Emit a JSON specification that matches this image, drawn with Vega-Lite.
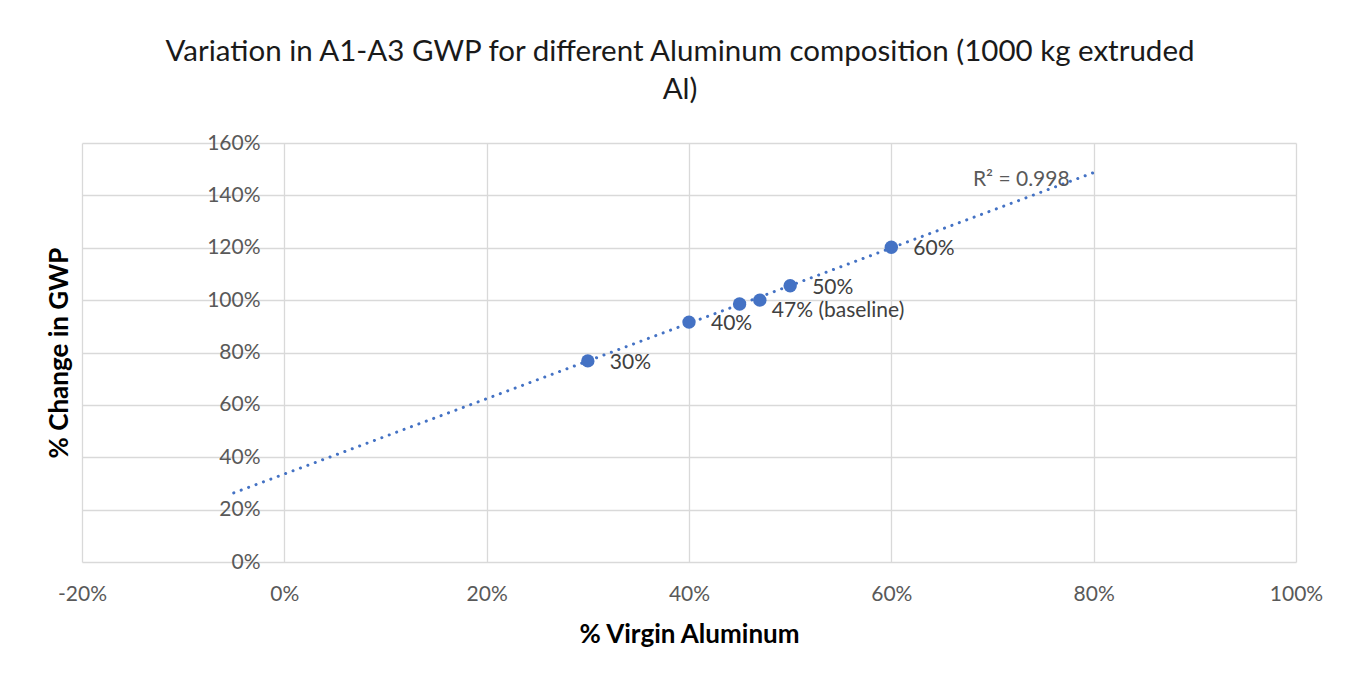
{
  "$schema": "https://vega.github.io/schema/vega-lite/v6.json",
  "width": 1214,
  "height": 419,
  "autosize": {"type": "none"},
  "padding": {"left": 82, "top": 143, "right": 55, "bottom": 115},
  "background": "white",
  "config": {
    "view": {"stroke": null},
    "font": "Lato",
    "axis": {"gridColor": "#d9d9d9", "gridWidth": 1.3, "domain": false, "ticks": false, "labelFlush": false, "labelColor": "#595959", "labelFontSize": 21, "labelFont": "Lato", "titleFont": "Lato", "titleFontSize": 26, "titleFontWeight": "bold", "titleColor": "#000000"}
  },
  "title": {
    "text": ["Variation in A1-A3 GWP for different Aluminum composition (1000 kg extruded", "Al)"],
    "fontSize": 29.5,
    "fontWeight": "normal",
    "font": "Lato",
    "color": "#1a1a1a",
    "anchor": "middle",
    "lineHeight": 38,
    "offset": 27,
    "dx": -9
  },
  "datasets": {
    "points": [
      {"virgin": 30, "gwp": 76.8, "label": "30%"},
      {"virgin": 40, "gwp": 91.6, "label": "40%"},
      {"virgin": 45, "gwp": 98.5, "label": ""},
      {"virgin": 47, "gwp": 100.0, "label": "47% (baseline)"},
      {"virgin": 50, "gwp": 105.5, "label": "50%"},
      {"virgin": 60, "gwp": 120.2, "label": "60%"}
    ],
    "trend": [
      {"virgin": -5, "gwp": 26.4},
      {"virgin": 80, "gwp": 148.7}
    ],
    "r2": [
      {"virgin": 80, "gwp": 148.7, "text": "R² = 0.998"}
    ]
  },
  "encoding": {
    "x": {"field": "virgin", "type": "quantitative", "scale": {"domain": [-20, 100], "nice": false, "zero": false},
      "axis": {"title": "% Virgin Aluminum", "values": [-20, 0, 20, 40, 60, 80, 100], "labelExpr": "datum.value + '%'", "labelPadding": 21, "titleY": 72, "titleBaseline": "middle"}},
    "y": {"field": "gwp", "type": "quantitative", "scale": {"domain": [0, 160], "nice": false},
      "axis": {"title": "% Change in GWP", "values": [0, 20, 40, 60, 80, 100, 120, 140, 160], "labelExpr": "datum.value + '%'", "offset": -202, "labelPadding": 24, "titleX": -212, "titleY": 209.5, "titleBaseline": "bottom", "titleAlign": "center", "titleAngle": -90}}
  },
  "layer": [
    {
      "data": {"name": "trend"},
      "mark": {"type": "line", "color": "#4472C4", "strokeWidth": 3, "strokeDash": [0.1, 7.8], "strokeCap": "round"}
    },
    {
      "data": {"name": "points"},
      "mark": {"type": "circle", "color": "#4472C4", "opacity": 1, "size": 180}
    },
    {
      "data": {"name": "points"},
      "transform": [{"filter": "datum.label != '' && datum.virgin != 47"}],
      "mark": {"type": "text", "align": "left", "baseline": "middle", "dx": 22, "dy": 2, "fontSize": 21, "color": "#404040", "font": "Lato"},
      "encoding": {"text": {"field": "label"}}
    },
    {
      "data": {"name": "points"},
      "transform": [{"filter": "datum.virgin == 47"}],
      "mark": {"type": "text", "align": "left", "baseline": "middle", "dx": 12, "dy": 11, "fontSize": 21, "color": "#404040", "font": "Lato"},
      "encoding": {"text": {"field": "label"}}
    },
    {
      "data": {"name": "r2"},
      "mark": {"type": "text", "align": "right", "baseline": "middle", "dx": -24, "dy": 7, "fontSize": 21, "color": "#595959", "font": "Lato"},
      "encoding": {"text": {"field": "text"}}
    }
  ]
}
